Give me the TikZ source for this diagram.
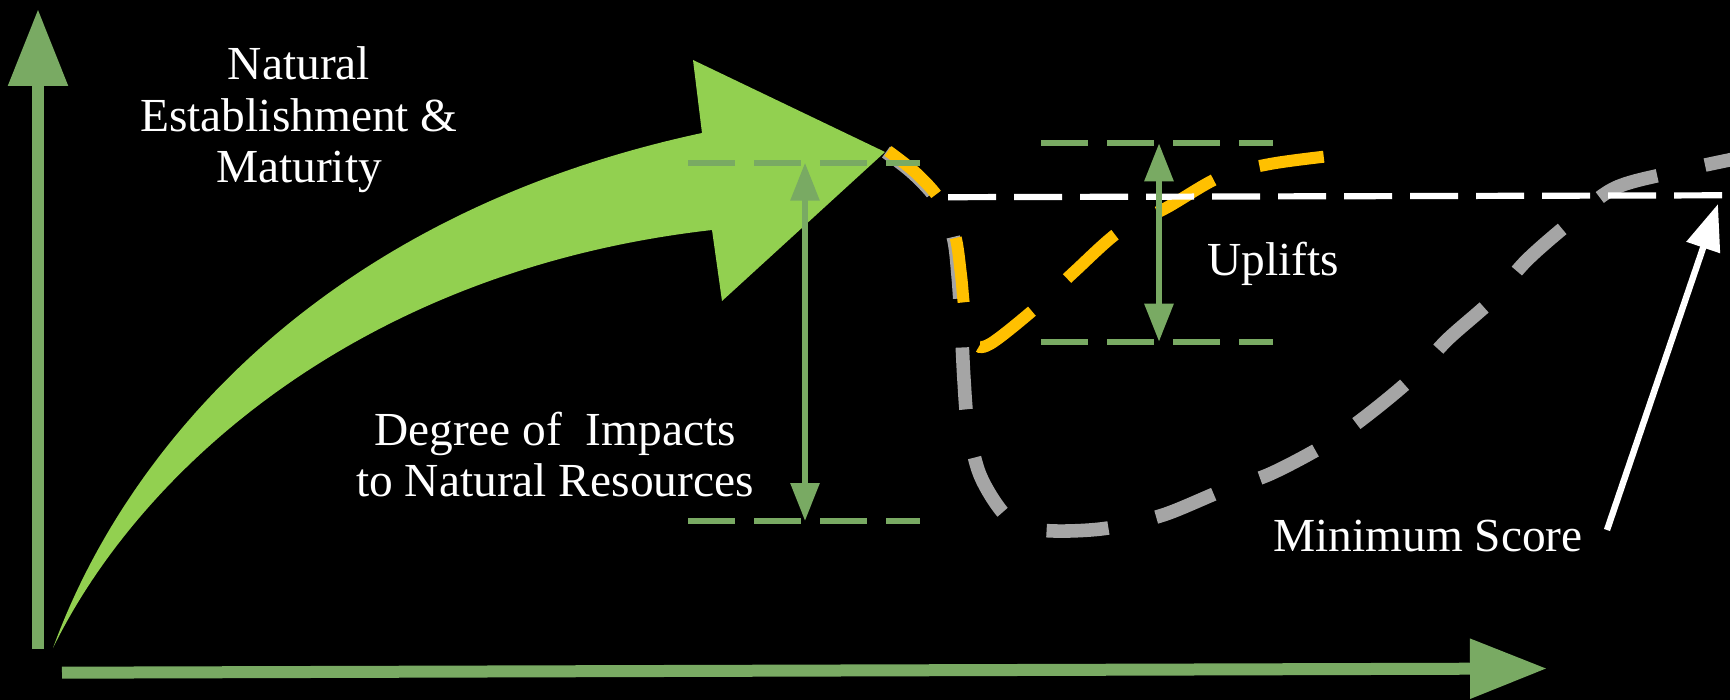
\documentclass[tikz,border=0pt]{standalone}
\usepackage{fontspec}
\setmainfont{Liberation Serif}
\newfontfamily\labelfont{Liberation Serif}
\usetikzlibrary{arrows.meta}
\definecolor{axisgreen}{RGB}{121,170,99}
\definecolor{lightgreen}{HTML}{92D050}
\definecolor{curvegold}{HTML}{FFC000}
\definecolor{curvegray}{HTML}{A5A5A5}
\begin{document}
\begin{tikzpicture}[x=0.5pt,y=-0.5pt,
  axisarrow/.style={draw=axisgreen, line width=6pt, -{Triangle[length=38.5pt,width=28.5pt]}},
  guideline/.style={draw=axisgreen, line width=3.1pt, dash pattern=on 23.5pt off 9.5pt},
  spanarrow/.style={draw=axisgreen, line width=3pt, {Triangle[length=19pt,width=14pt]}-{Triangle[length=19pt,width=14pt]}},
  levelline/.style={draw=white, line width=3.1pt, dash pattern=on 24pt off 9pt},
  whitearrow/.style={draw=white, line width=3.2pt, -{Triangle[length=23pt,width=17pt]}},
  scorecurve/.style={line width=6.8pt, dash pattern=on 31pt off 24.5pt},
  txt/.style={text=white, font=\labelfont\fontsize{23.7}{25.8}\selectfont, inner sep=0pt, align=center}]
\fill[black] (0,0) rectangle (1730,700);
\useasboundingbox (0,0) rectangle (1730,700);
% axes
\coordinate (yorig) at (38,649);
\coordinate (ytop) at (38,9);
\coordinate (xorig) at (62,672.7);
\coordinate (xend) at (1547,668.5);
\draw[axisarrow] (yorig) -- (ytop);
\draw[axisarrow] (xorig) -- (xend);
% big curved arrow
\fill[lightgreen] (53,648) .. controls (125,450) and (320,215) .. (702,133)
  -- (693,60) -- (885,152) -- (722,301) -- (712,230)
  .. controls (360,270) and (140,470) .. (53,648) -- cycle;
% gray curve
\draw[scorecurve, curvegray] plot[smooth, tension=0.55] coordinates {
  (886,152) (914,174) (938,201) (953,236) (958,275) (961,320) (964,380)
  (968,425) (980,475) (1005,515) (1030,528) (1055,531) (1090,530) (1119,526)
  (1166,514) (1224,490) (1270,474) (1325,445) (1365,417) (1412,378)
  (1447,340) (1492,300) (1527,260) (1573,220) (1615,188) (1674,172) (1734,159)};
% gold curve
\draw[scorecurve, line width=6pt, dash pattern=on 32.5pt off 24pt, curvegold] plot[smooth, tension=0.55] coordinates {
  (888,151) (916,173) (940,200) (955,235) (961,275) (965,312) (974,342)
  (990,344) (1038,306) (1074,272) (1120,231) (1166,208) (1220,177)
  (1270,164) (1330,156)};
% minimum score level
\coordinate (lvlL) at (948,197.2);
\coordinate (lvlR) at (1723,195.3);
\draw[levelline] (lvlL) -- (lvlR);
% guide lines
\coordinate (g1a) at (688,162.7); \coordinate (g1b) at (920,162.7);
\coordinate (g2a) at (688,521);   \coordinate (g2b) at (920,521);
\coordinate (g3a) at (1041,143.3); \coordinate (g3b) at (1273,143.3);
\coordinate (g4a) at (1041,341.7); \coordinate (g4b) at (1273,341.7);
\draw[guideline] (g1a) -- (g1b);
\draw[guideline] (g2a) -- (g2b);
\draw[guideline] (g3a) -- (g3b);
\draw[guideline] (g4a) -- (g4b);
% span arrows
\coordinate (s1a) at (805,162.7); \coordinate (s1b) at (805,521);
\coordinate (s2a) at (1159,143.3); \coordinate (s2b) at (1159,341.7);
\draw[spanarrow] (s1a) -- (s1b);
\draw[spanarrow] (s2a) -- (s2b);
% pointer
\coordinate (pstart) at (1607,530);
\coordinate (ptip) at (1718,204);
\draw[whitearrow] (pstart) -- (ptip);
% texts (base = baseline of the last line)
\node[txt, anchor=base] (nat) at (299,182.7) {Natural\\Establishment \&\\Maturity};
\node[txt, anchor=base] (deg) at (555,496.7) {Degree of\ \ Impacts\\to Natural Resources};
\node[txt, anchor=base] (upl) at (1273,276) {Uplifts};
\node[txt, anchor=base] (minsc) at (1428,551.7) {Minimum Score};
\end{tikzpicture}
\end{document}
